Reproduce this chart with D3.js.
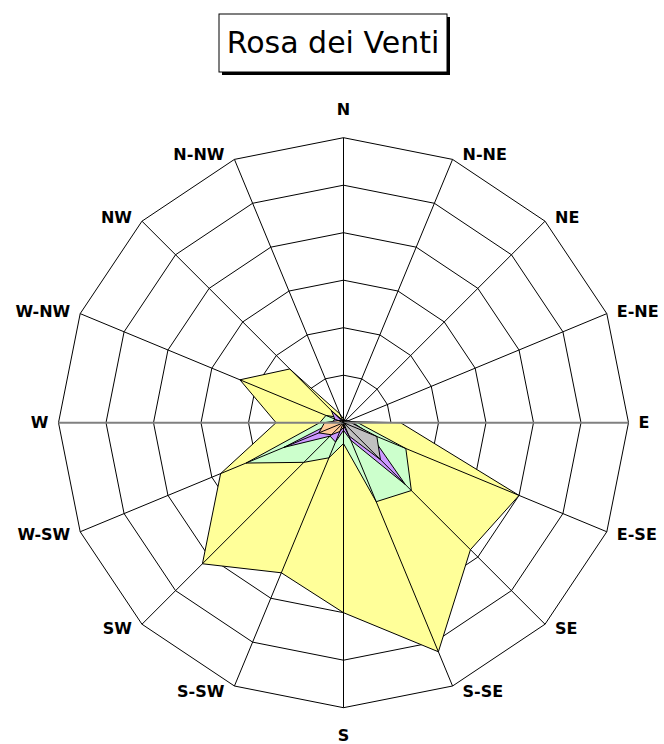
<!DOCTYPE html>
<html>
<head>
<meta charset="utf-8">
<script src="https://cdn.jsdelivr.net/npm/d3@7"></script>
<style>
  body { margin: 0; background: #fff; }
  svg { display: block; font-family: "DejaVu Sans", sans-serif; }
</style>
</head>
<body>
<svg class="rose" width="664" height="744"></svg>
<script>
const directions = ["N", "N-NE", "NE", "E-NE", "E", "E-SE", "SE", "S-SE",
                    "S", "S-SW", "SW", "W-SW", "W", "W-NW", "NW", "N-NW"];

const ringTicks = [5, 10, 15, 20, 25, 30];

// one array per series, drawn back to front
const yellowValues = [0.4, 0.3, 0.3, 0.3, 6.0, 20.0, 18.9, 26.1, 20.0, 17.1, 21.0, 14.0, 7.1, 11.8, 8.0, 1.0];
const greenValues  = [0.3, 0.3, 0.3, 0.5, 1.5, 7.1, 10.1, 9.0, 2.2, 4.0, 5.9, 11.1, 2.5, 2.0, 0.8, 0.3];
const purpleValues = [0.2, 0.2, 0.3, 0.5, 1.0, 3.0, 9.2, 2.0, 0.8, 2.2, 2.0, 6.8, 1.2, 1.0, 1.8, 0.3];
const greyValues   = [0.1, 0.1, 0.2, 0.3, 0.8, 3.8, 5.5, 1.5, 0.3, 0.2, 0.2, 0.2, 0.2, 0.1, 0.1, 0.1];
const orangeValues = [0.2, 0.2, 0.2, 0.2, 0.3, 0.3, 0.3, 0.3, 0.5, 1.0, 1.8, 2.8, 2.0, 0.6, 0.3, 0.2];

const series = [
    { values: yellowValues, color: "#ffff99" },
    { values: greenValues,  color: "#ccffcc" },
    { values: purpleValues, color: "#cc99ff" },
    { values: greyValues,   color: "#c0c0c0" },
    { values: orangeValues, color: "#ffcc99" }
];

const svg = d3.select("svg.rose");
const cx = 343.5, cy = 422.7, radius = 285;
const g = svg.append("g").attr("transform", `translate(${cx}, ${cy})`);

const r = d3.scaleLinear().domain([0, 30]).range([0, radius]);
const angle = d3.scalePoint().domain(directions).range([0, 2 * Math.PI * 15 / 16]);

const point = (dir, v) => {
    const a = angle(dir);
    return [Math.sin(a) * r(v), -Math.cos(a) * r(v)];
};

// title box with shadow
const title = svg.append("g");
title.append("rect").attr("x", 222).attr("y", 17).attr("width", 228).attr("height", 58).attr("fill", "#000");
title.append("rect").attr("x", 219).attr("y", 14).attr("width", 228).attr("height", 58)
    .attr("fill", "#fff").attr("stroke", "#000").attr("stroke-width", 1);
title.append("text").attr("x", 333).attr("y", 53).attr("text-anchor", "middle")
    .attr("font-size", 30).attr("fill", "#000").text("Rosa dei Venti");

// rings
g.selectAll("path.ring")
    .data(ringTicks)
    .enter().append("path")
    .attr("class", "ring")
    .attr("fill", "none").attr("stroke", "#000").attr("stroke-width", 1)
    .attr("d", t => d3.line()(directions.map(d => point(d, t))) + "Z");

// series
const area = d3.line();
series.forEach(s => {
    g.append("path")
        .attr("fill", s.color)
        .attr("stroke", "#000")
        .attr("stroke-width", 1)
        .attr("stroke-linejoin", "miter")
        .attr("d", area(directions.map((d, i) => point(d, s.values[i]))) + "Z");
});

// spokes on top
g.selectAll("line.spoke")
    .data(directions)
    .enter().append("line")
    .attr("class", "spoke")
    .attr("x1", 0).attr("y1", 0)
    .attr("x2", d => point(d, 30)[0])
    .attr("y2", d => point(d, 30)[1])
    .attr("stroke", d => (d === "E" || d === "W") ? "#808080" : "#000")
    .attr("stroke-width", d => (d === "E" || d === "W") ? 2 : 1);

// direction labels
g.selectAll("text.dir")
    .data(directions)
    .enter().append("text")
    .attr("class", "dir")
    .attr("font-size", 16)
    .attr("font-weight", "bold")
    .attr("fill", "#000")
    .attr("text-anchor", d => {
        const s = Math.sin(angle(d));
        return s > 0.1 ? "start" : (s < -0.1 ? "end" : "middle");
    })
    .attr("x", d => {
        const s = Math.sin(angle(d));
        const p = point(d, 30);
        return Math.abs(s) < 0.1 ? p[0] : p[0] + Math.sign(s) * 10;
    })
    .attr("y", d => {
        const c = Math.cos(angle(d));
        const p = point(d, 30);
        const off = Math.abs(Math.sin(angle(d))) < 0.1 ? 28 : 6;
        return p[1] - c * off;
    })
    .attr("dy", "0.36em")
    .text(d => d);
</script>
</body>
</html>
